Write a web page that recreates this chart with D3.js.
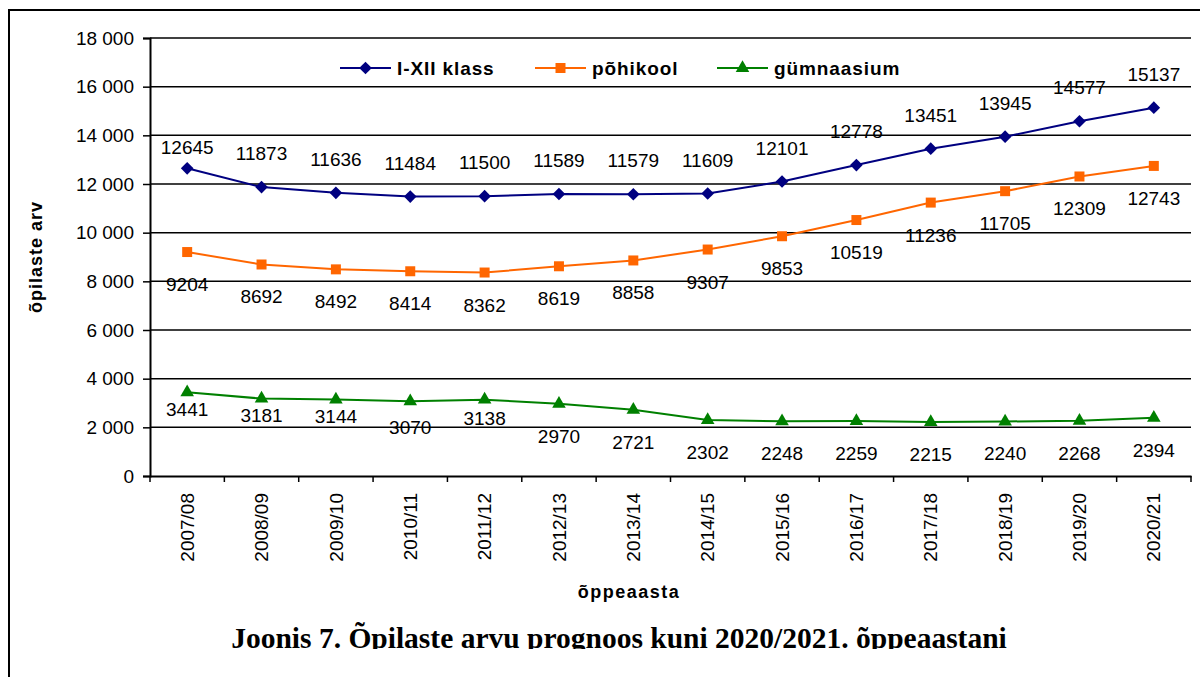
<!DOCTYPE html>
<html>
<head>
<meta charset="utf-8">
<script src="https://cdn.jsdelivr.net/npm/d3@7"></script>
<style>
  body { margin: 0; background: #fff; }
</style>
</head>
<body>
<div id="canvas"></div>
<script>
const categories = ['2007/08', '2008/09', '2009/10', '2010/11', '2011/12', '2012/13', '2013/14',
  '2014/15', '2015/16', '2016/17', '2017/18', '2018/19', '2019/20', '2020/21']
const klass = [12645, 11873, 11636, 11484, 11500, 11589, 11579, 11609, 12101, 12778, 13451, 13945, 14577, 15137]
const pohikool = [9204, 8692, 8492, 8414, 8362, 8619, 8858, 9307, 9853, 10519, 11236, 11705, 12309, 12743]
const gymnaasium = [3441, 3181, 3144, 3070, 3138, 2970, 2721, 2302, 2248, 2259, 2215, 2240, 2268, 2394]
const seriesNames = ['I-XII klass', 'põhikool', 'gümnaasium']
const yTicks = [0, 2000, 4000, 6000, 8000, 10000, 12000, 14000, 16000, 18000]

const width = 1200
const height = 677
const margin = { top: 38, left: 150, right: 9, bottom: 201 }
const iwidth = width - margin.left - margin.right
const iheight = height - margin.top - margin.bottom
const sans = "Arial, 'Liberation Sans', sans-serif"

const svg = d3.select('#canvas').append('svg')
  .attr('width', width)
  .attr('height', height)
  .style('font-family', sans)

// outer frame
svg.append('rect')
  .attr('x', 9).attr('y', 10)
  .attr('width', 1200).attr('height', 700)
  .attr('fill', 'none').attr('stroke', '#000').attr('stroke-width', 2)

const g = svg.append('g').attr('transform', `translate(${margin.left},${margin.top})`)

const x = d3.scaleBand().domain(categories).range([0, iwidth])
const y = d3.scaleLinear().domain([0, 18000]).range([iheight, 0])
const cx = (i) => x(categories[i]) + x.bandwidth() / 2

// gridlines
g.append('g').selectAll('line').data(yTicks.slice(1)).enter().append('line')
  .attr('x1', 0).attr('x2', iwidth)
  .attr('y1', (d) => y(d)).attr('y2', (d) => y(d))
  .attr('stroke', '#000').attr('stroke-width', 1.5)

// y axis
const fmt = (d) => d3.format(',')(d).replace(/,/g, ' ')
const yAxis = g.append('g').call(d3.axisLeft(y).tickValues(yTicks).tickFormat(fmt).tickSize(7).tickPadding(9))
yAxis.select('.domain').attr('stroke-width', 2)
yAxis.selectAll('.tick line').attr('stroke-width', 1.5)
yAxis.selectAll('text').style('font-size', '19px').style('font-family', sans).attr('fill', '#000')

// x axis
const xAxis = g.append('g').attr('transform', `translate(0,${iheight})`)
  .call(d3.axisBottom(x).tickSize(0).tickPadding(0))
xAxis.select('.domain').attr('stroke-width', 2)
xAxis.selectAll('.tick text')
  .style('font-size', '19px').style('font-family', sans).attr('fill', '#000')
  .attr('transform', 'rotate(-90)')
  .attr('text-anchor', 'end')
  .attr('x', -17).attr('y', 0).attr('dy', '0.35em')
xAxis.selectAll('.bound').data(d3.range(categories.length + 1)).enter().append('line')
  .attr('x1', (i) => i * x.bandwidth()).attr('x2', (i) => i * x.bandwidth())
  .attr('y1', 0).attr('y2', 6)
  .attr('stroke', '#000').attr('stroke-width', 1.5)

// series (diamond = square turned 45deg)
const series = [
  { name: seriesNames[0], values: klass, color: '#000080', symbol: d3.symbolSquare, size: 80, rot: 45, above: true },
  { name: seriesNames[1], values: pohikool, color: '#FF6600', symbol: d3.symbolSquare, size: 100, rot: 0, above: false },
  { name: seriesNames[2], values: gymnaasium, color: '#008000', symbol: d3.symbolTriangle, size: 80, rot: 0, above: false },
]
// small manual label nudges (px) as in the original chart
const labelNudge = [
  [13, 0, 0, 0, 0, 0, 0, 0, 0, 0, 0, 0, 0, 0],
  [0, 0, 0, 0, 0, 0, 0, 0, 0, 0, 0, 0, 0, 0],
  [-15, -16, -15, -6, -14, 0, 0, 0, 0, 0, 0, 0, 0, 0],
]

const line = d3.line().x((d, i) => cx(i)).y((d) => y(d))

series.forEach((s, si) => {
  g.append('path')
    .datum(s.values)
    .attr('d', line)
    .attr('fill', 'none')
    .attr('stroke', s.color)
    .attr('stroke-width', 2)

  g.selectAll(`.pt${si}`).data(s.values).enter().append('path')
    .attr('transform', (d, i) => `translate(${cx(i)},${y(d)}) rotate(${s.rot})`)
    .attr('d', d3.symbol().type(s.symbol).size(s.size))
    .attr('fill', s.color)

  g.selectAll(`.lb${si}`).data(s.values).enter().append('text')
    .attr('x', (d, i) => cx(i))
    .attr('y', (d, i) => y(d) + (s.above ? -27 : 39) + labelNudge[si][i])
    .attr('text-anchor', 'middle')
    .style('font-size', '19px')
    .text((d) => d)
})

// legend
const legend = svg.append('g')
const legendX = [340, 535, 717]
series.forEach((s, i) => {
  const lg = legend.append('g').attr('transform', `translate(${legendX[i]},68)`)
  lg.append('line').attr('x1', 0).attr('x2', 51).attr('stroke', s.color).attr('stroke-width', 2)
  lg.append('path').attr('transform', `translate(25.5,0) rotate(${s.rot})`)
    .attr('d', d3.symbol().type(s.symbol).size(s.size)).attr('fill', s.color)
  lg.append('text').attr('x', 57).attr('dy', '0.35em')
    .style('font-size', '19px').style('font-weight', 'bold')
    .style('letter-spacing', '0.9px')
    .text(s.name)
})

// axis titles
svg.append('text')
  .attr('x', 629).attr('y', 598)
  .attr('text-anchor', 'middle')
  .style('font-size', '18px').style('font-weight', 'bold').style('letter-spacing', '1.5px')
  .text('õppeaasta')

svg.append('text')
  .attr('transform', 'translate(42,257) rotate(-90)')
  .attr('text-anchor', 'middle')
  .style('font-size', '18px').style('font-weight', 'bold').style('letter-spacing', '1px')
  .text('õpilaste arv')

// caption, cut at the bottom like the original
svg.append('clipPath').attr('id', 'cap').append('rect')
  .attr('x', 0).attr('y', 600).attr('width', width).attr('height', 49)
svg.append('text')
  .attr('clip-path', 'url(#cap)')
  .attr('x', 619).attr('y', 648)
  .attr('text-anchor', 'middle')
  .style('font-family', "'Times New Roman', 'Liberation Serif', serif")
  .style('font-size', '29.5px').style('font-weight', 'bold')
  .text('Joonis 7. Õpilaste arvu prognoos kuni 2020/2021. õppeaastani')
</script>
</body>
</html>
